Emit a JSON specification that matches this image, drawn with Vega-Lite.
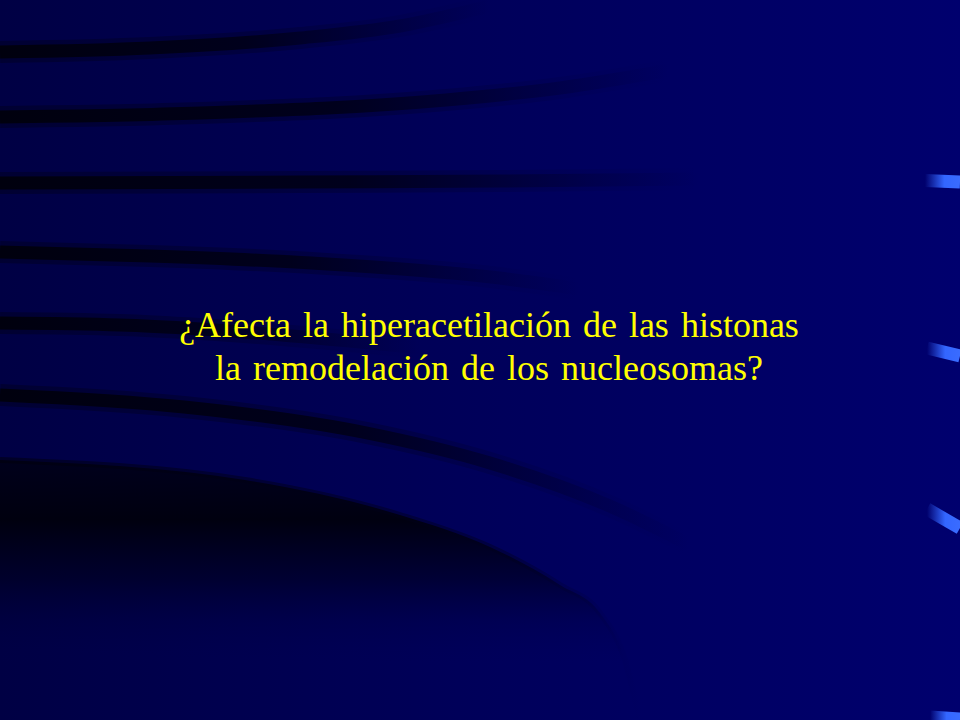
{
  "$schema": "https://vega.github.io/schema/vega-lite/v6.json",
  "width": 960,
  "height": 720,
  "autosize": {"type": "none"},
  "padding": 0,
  "background": "#000058",
  "datasets": {
    "stripes": [
      {"stripe": "A", "x": 0, "y": 52},
      {"stripe": "A", "x": 150, "y": 48},
      {"stripe": "A", "x": 300, "y": 38},
      {"stripe": "A", "x": 400, "y": 26},
      {"stripe": "A", "x": 490, "y": 6},
      {"stripe": "B", "x": 0, "y": 117},
      {"stripe": "B", "x": 200, "y": 113},
      {"stripe": "B", "x": 446, "y": 100},
      {"stripe": "B", "x": 560, "y": 88},
      {"stripe": "B", "x": 670, "y": 70},
      {"stripe": "C", "x": 0, "y": 183},
      {"stripe": "C", "x": 300, "y": 182},
      {"stripe": "C", "x": 500, "y": 181},
      {"stripe": "C", "x": 700, "y": 179},
      {"stripe": "D", "x": 0, "y": 252},
      {"stripe": "D", "x": 150, "y": 256},
      {"stripe": "D", "x": 312, "y": 263},
      {"stripe": "D", "x": 491, "y": 277},
      {"stripe": "D", "x": 580, "y": 289},
      {"stripe": "E", "x": 0, "y": 323},
      {"stripe": "E", "x": 120, "y": 325},
      {"stripe": "E", "x": 200, "y": 329},
      {"stripe": "E", "x": 420, "y": 348},
      {"stripe": "F", "x": 0, "y": 395},
      {"stripe": "F", "x": 184, "y": 407},
      {"stripe": "F", "x": 367, "y": 433},
      {"stripe": "F", "x": 490, "y": 463},
      {"stripe": "F", "x": 612, "y": 507},
      {"stripe": "F", "x": 690, "y": 545}
    ],
    "shadow": [
      {"x": 0, "y": 460},
      {"x": 245, "y": 480},
      {"x": 400, "y": 515},
      {"x": 490, "y": 547},
      {"x": 560, "y": 585},
      {"x": 600, "y": 613},
      {"x": 625, "y": 660},
      {"x": 640, "y": 720}
    ],
    "glints": [
      {"glint": "G1", "x": 925, "y": 180.5},
      {"glint": "G1", "x": 960, "y": 182},
      {"glint": "G2", "x": 927, "y": 348},
      {"glint": "G2", "x": 960, "y": 356},
      {"glint": "G3", "x": 927, "y": 509},
      {"glint": "G3", "x": 960, "y": 528},
      {"glint": "G4", "x": 930, "y": 717},
      {"glint": "G4", "x": 960, "y": 719}
    ],
    "title": [
      {"line": 1, "x": 489, "y": 337, "text": "¿Afecta\u2004la\u2004hiperacetilación\u2004de\u2004las\u2004histonas"},
      {"line": 2, "x": 489, "y": 380, "text": "la\u2004remodelación\u2004de\u2004los\u2004nucleosomas?"}
    ]
  },
  "encoding": {
    "x": {"type": "quantitative", "scale": {"domain": [0, 960], "nice": false, "zero": false}, "axis": null},
    "y": {"type": "quantitative", "scale": {"domain": [0, 720], "nice": false, "zero": false, "reverse": true}, "axis": null}
  },
  "layer": [
    {
      "data": {"values": [{}]},
      "mark": {
        "type": "rect",
        "fill": {
          "gradient": "linear", "x1": 0, "y1": 0, "x2": 1, "y2": 0,
          "stops": [
            {"offset": 0, "color": "#000044"},
            {"offset": 0.5, "color": "#00005a"},
            {"offset": 1, "color": "#00006e"}
          ]
        }
      },
      "encoding": {
        "x": {"datum": 0, "type": "quantitative"},
        "x2": {"datum": 960},
        "y": {"datum": 0, "type": "quantitative"},
        "y2": {"datum": 720}
      }
    },
    {
      "data": {"name": "shadow"},
      "mark": {
        "type": "area",
        "interpolate": "monotone",
        "fill": {
          "gradient": "linear", "x1": 0, "y1": 0, "x2": 0, "y2": 1,
          "stops": [
            {"offset": 0, "color": "rgba(0,0,10,0.7)"},
            {"offset": 0.23, "color": "rgba(0,0,10,0.92)"},
            {"offset": 0.46, "color": "rgba(0,0,20,0.5)"},
            {"offset": 0.62, "color": "rgba(0,0,40,0.15)"},
            {"offset": 0.78, "color": "rgba(0,0,80,0)"},
            {"offset": 1, "color": "rgba(0,0,90,0)"}
          ]
        }
      },
      "encoding": {
        "x": {"field": "x"},
        "y": {"field": "y"},
        "y2": {"datum": 720}
      }
    },
    {
      "data": {"name": "shadow"},
      "mark": {
        "type": "line",
        "interpolate": "monotone",
        "strokeWidth": 6,
        "strokeCap": "butt",
        "opacity": 0.5,
        "stroke": {
          "gradient": "linear", "x1": 0, "y1": 0, "x2": 1, "y2": 0,
          "stops": [
            {"offset": 0, "color": "rgba(0,0,10,1)"},
            {"offset": 0.8, "color": "rgba(0,0,30,0.8)"},
            {"offset": 1, "color": "rgba(0,0,60,0)"}
          ]
        }
      },
      "encoding": {
        "x": {"field": "x"},
        "y": {"field": "y"}
      }
    },
    {
      "data": {"name": "stripes"},
      "mark": {
        "type": "line",
        "interpolate": "monotone",
        "strokeWidth": 22,
        "strokeCap": "butt",
        "opacity": 0.35,
        "stroke": {
          "gradient": "linear", "x1": 0, "y1": 0, "x2": 1, "y2": 0,
          "stops": [
            {"offset": 0, "color": "rgba(0,0,16,1)"},
            {"offset": 0.55, "color": "rgba(0,0,24,0.8)"},
            {"offset": 1, "color": "rgba(0,0,50,0)"}
          ]
        }
      },
      "encoding": {
        "x": {"field": "x"},
        "y": {"field": "y"},
        "detail": {"field": "stripe", "type": "nominal"}
      }
    },
    {
      "data": {"name": "stripes"},
      "mark": {
        "type": "line",
        "interpolate": "monotone",
        "strokeWidth": 13,
        "strokeCap": "butt",
        "stroke": {
          "gradient": "linear", "x1": 0, "y1": 0, "x2": 1, "y2": 0,
          "stops": [
            {"offset": 0, "color": "rgba(0,0,14,1)"},
            {"offset": 0.5, "color": "rgba(0,0,22,0.85)"},
            {"offset": 1, "color": "rgba(0,0,50,0)"}
          ]
        }
      },
      "encoding": {
        "x": {"field": "x"},
        "y": {"field": "y"},
        "detail": {"field": "stripe", "type": "nominal"}
      }
    },
    {
      "data": {"name": "glints"},
      "mark": {
        "type": "line",
        "strokeWidth": 13,
        "strokeCap": "butt",
        "stroke": {
          "gradient": "linear", "x1": 0, "y1": 0, "x2": 1, "y2": 0,
          "stops": [
            {"offset": 0, "color": "rgba(51,102,255,0)"},
            {"offset": 0.55, "color": "rgba(51,102,255,1)"},
            {"offset": 1, "color": "#3a6cff"}
          ]
        }
      },
      "encoding": {
        "x": {"field": "x"},
        "y": {"field": "y"},
        "detail": {"field": "glint", "type": "nominal"}
      }
    },
    {
      "data": {"name": "title"},
      "mark": {
        "type": "text",
        "font": "Liberation Serif",
        "fontSize": 36,
        "color": "#ffff00",
        "align": "center",
        "baseline": "alphabetic"
      },
      "encoding": {
        "x": {"field": "x"},
        "y": {"field": "y"},
        "text": {"field": "text"}
      }
    }
  ],
  "config": {
    "view": {"stroke": null}
  }
}
